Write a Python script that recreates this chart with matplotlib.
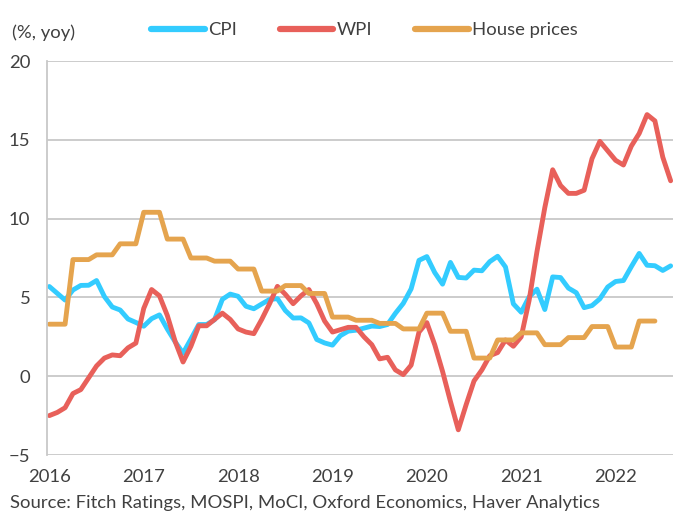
import numpy as np
import matplotlib.pyplot as plt

plt.rcParams["font.family"] = ["Lato", "DejaVu Sans"]

years = ["2016", "2017", "2018", "2019", "2020", "2021", "2022"]

# monthly, Jan 2016 - Aug 2022
cpi = [
    5.69, 5.26, 4.83, 5.47, 5.76, 5.77, 6.07, 5.05, 4.39, 4.20, 3.63, 3.41,
    3.17, 3.65, 3.89, 2.99, 2.18, 1.46, 2.36, 3.28, 3.28, 3.58, 4.88, 5.21,
    5.07, 4.44, 4.28, 4.58, 4.87, 4.92, 4.17, 3.69, 3.70, 3.38, 2.33, 2.11,
    1.97, 2.57, 2.86, 2.92, 3.05, 3.18, 3.15, 3.28, 3.99, 4.62, 5.54, 7.35,
    7.59, 6.58, 5.84, 7.22, 6.27, 6.23, 6.73, 6.69, 7.27, 7.61, 6.93, 4.59,
    4.06, 5.03, 5.52, 4.23, 6.30, 6.26, 5.59, 5.30, 4.35, 4.48, 4.91, 5.66,
    6.01, 6.07, 6.95, 7.79, 7.04, 7.01, 6.71, 7.00,
]
wpi = [
    -2.5, -2.3, -2.0, -1.1, -0.85, -0.1, 0.65, 1.15, 1.35, 1.3, 1.8, 2.1,
    4.3, 5.5, 5.1, 3.85, 2.2, 0.9, 1.9, 3.2, 3.2, 3.6, 4.0, 3.6,
    3.0, 2.8, 2.7, 3.6, 4.6, 5.7, 5.2, 4.6, 5.1, 5.5, 4.6, 3.5,
    2.8, 2.95, 3.1, 3.1, 2.5, 2.0, 1.1, 1.2, 0.4, 0.1, 0.7, 2.8,
    3.4, 2.0, 0.3, -1.6, -3.4, -1.8, -0.3, 0.4, 1.3, 1.5, 2.3, 1.9,
    2.5, 4.8, 7.9, 10.7, 13.1, 12.1, 11.6, 11.6, 11.8, 13.8, 14.9, 14.3,
    13.7, 13.4, 14.6, 15.4, 16.6, 16.2, 13.9, 12.4,
]
# quarterly index, held flat across each quarter's months
house = [
    3.3, 3.3, 3.3, 7.4, 7.4, 7.4, 7.7, 7.7, 7.7, 8.4, 8.4, 8.4,
    10.4, 10.4, 10.4, 8.7, 8.7, 8.7, 7.5, 7.5, 7.5, 7.3, 7.3, 7.3,
    6.8, 6.8, 6.8, 5.4, 5.4, 5.4, 5.75, 5.75, 5.75, 5.25, 5.25, 5.25,
    3.75, 3.75, 3.75, 3.55, 3.55, 3.55, 3.35, 3.35, 3.35, 3.0, 3.0, 3.0,
    4.0, 4.0, 4.0, 2.85, 2.85, 2.85, 1.15, 1.15, 1.15, 2.3, 2.3, 2.3,
    2.75, 2.75, 2.75, 2.0, 2.0, 2.0, 2.45, 2.45, 2.45, 3.15, 3.15, 3.15,
    1.85, 1.85, 1.85, 3.5, 3.5, 3.5,
]

txt = "#404040"
grid = "#c8c8c8"
fs = 13.3

fig = plt.figure(figsize=(6.73, 5.13), dpi=100)
ax = fig.add_axes([47 / 673, 58 / 513, 626 / 673, 394 / 513])

kw = dict(lw=3.5, solid_capstyle="round", solid_joinstyle="round")
ax.plot(np.arange(len(cpi)), cpi, color="#33ccff", label="CPI", **kw)
ax.plot(np.arange(len(wpi)), wpi, color="#e8605a", label="WPI", **kw)
ax.plot(np.arange(len(house)), house, color="#e5a44e", label="House prices", **kw)

ax.set_xlim(-0.3, 79.3)
ax.set_ylim(-5, 20)
ax.set_yticks([-5, 0, 5, 10, 15, 20])
ax.set_xticks(np.arange(0, 12 * len(years), 12))
ax.set_xticklabels(years)

ax.grid(axis="y", color=grid, lw=1.3)
ax.set_axisbelow(True)
for s in ["top", "right", "bottom"]:
    ax.spines[s].set_visible(False)
ax.spines["left"].set_color(grid)
ax.spines["left"].set_linewidth(1.3)
ax.tick_params(axis="both", length=0, labelsize=fs, labelcolor=txt)
ax.tick_params(axis="y", pad=12)
ax.tick_params(axis="x", pad=10)

fig.text(12 / 673, 1 - 33 / 513, "(%, yoy)", fontsize=fs, color=txt, va="center")
leg = fig.legend(loc="center left", bbox_to_anchor=(151 / 673, 1 - 30 / 513),
                 ncol=3, frameon=False, fontsize=fs, handlelength=2.9,
                 handletextpad=0.2, columnspacing=2.3, borderpad=0,
                 borderaxespad=0, labelcolor=txt)
for h in leg.get_lines():
    h.set_linewidth(4.5)
fig.text(10 / 673, 10 / 513, "Source: Fitch Ratings, MOSPI, MoCI, Oxford Economics, Haver Analytics",
         fontsize=fs, color=txt, va="center")

fig.savefig("out.png", dpi=100)
